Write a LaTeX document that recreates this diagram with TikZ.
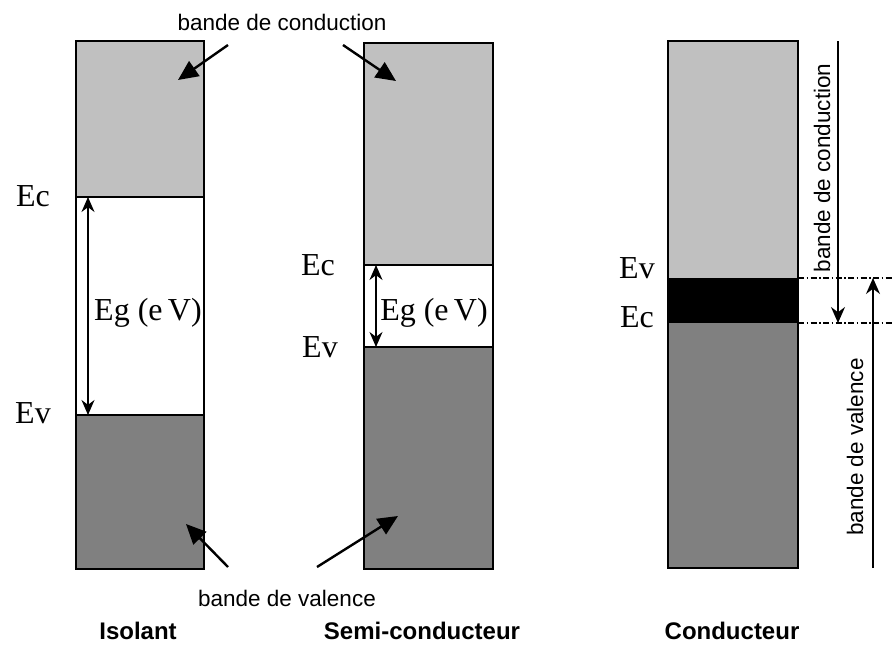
\documentclass[tikz,border=0pt]{standalone}
\usepackage{fontspec}
\setmainfont{Liberation Serif}
\setsansfont{Liberation Sans}
\usetikzlibrary{arrows.meta}
\definecolor{cband}{HTML}{C0C0C0}
\definecolor{vband}{HTML}{808080}
\begin{document}
\begin{tikzpicture}[x=1pt,y=-1pt,
  bandline/.style={draw=black,line width=1.3pt},
  elbl/.style={font=\fontsize{32}{32}\selectfont,inner sep=0pt},
  blbl/.style={font=\sffamily\fontsize{22.5}{22.5}\selectfont,inner sep=0pt},
  ttl/.style={font=\sffamily\bfseries\fontsize{24}{24}\selectfont,inner sep=0pt},
  ptr/.style={line width=2.4pt,-{Triangle[length=20pt,width=18pt]}},
  gaparrow/.style={line width=1.3pt,{Stealth[length=15pt,width=13pt]}-{Stealth[length=15pt,width=13pt]}},
  sidearrow/.style={line width=1.3pt,-{Stealth[length=16pt,width=14pt]}},
  levelline/.style={line width=1.1pt,dash pattern=on 6pt off 2.5pt on 1.5pt off 2.5pt}]
\useasboundingbox (0,0) rectangle (892,646);
\fill[white] (0,0) rectangle (892,646);

% ---------- Isolant ----------
\fill[cband] (76,41) rectangle (204,197);
\fill[vband] (76,415) rectangle (204,569);
\draw[bandline] (76,41) rectangle (204,569);
\draw[bandline] (76,197) -- (204,197);
\draw[bandline] (76,415) -- (204,415);
\coordinate (iEc) at (88,197);
\coordinate (iEv) at (88,415);
\draw[gaparrow] (iEc) -- (iEv);
\node[elbl] (iEcL) at (33,196) {Ec};
\node[elbl] (iEvL) at (33,413) {Ev};
\node[elbl] (iEg) at (148,313) {Eg (e\,V)};

% ---------- Semi-conducteur ----------
\fill[cband] (364,43) rectangle (493,265);
\fill[vband] (364,347) rectangle (493,569);
\draw[bandline] (364,43) rectangle (493,569);
\draw[bandline] (364,265) -- (493,265);
\draw[bandline] (364,347) -- (493,347);
\coordinate (sEc) at (376,265);
\coordinate (sEv) at (376,347);
\draw[gaparrow] (sEc) -- (sEv);
\node[elbl] (sEcL) at (318,265) {Ec};
\node[elbl] (sEvL) at (320,347) {Ev};
\node[elbl] (sEg) at (434,313) {Eg (e\,V)};

% ---------- labels bande de conduction / valence ----------
\node[blbl] (bc) at (282,22) {bande de conduction};
\coordinate (bcL0) at (228,45);
\coordinate (bcL1) at (178,80);
\coordinate (bcR0) at (343,45);
\coordinate (bcR1) at (396,81);
\draw[ptr] (bcL0) -- (bcL1);
\draw[ptr] (bcR0) -- (bcR1);

\node[blbl] (bv) at (287,598) {bande de valence};
\coordinate (bvL0) at (228,567);
\coordinate (bvL1) at (186,524);
\coordinate (bvR0) at (317,567);
\coordinate (bvR1) at (398,516);
\draw[ptr] (bvL0) -- (bvL1);
\draw[ptr] (bvR0) -- (bvR1);

% ---------- Conducteur ----------
\fill[cband] (668,41) rectangle (798,278);
\fill[black] (668,278) rectangle (798,323);
\fill[vband] (668,323) rectangle (798,568);
\draw[bandline] (668,41) rectangle (798,568);
\coordinate (cEvR) at (892,278);
\coordinate (cEcR) at (892,323);
\coordinate (cEvL) at (798,278);
\coordinate (cEcL) at (798,323);
\draw[levelline] (cEvL) -- (cEvR);
\draw[levelline] (cEcL) -- (cEcR);
\node[elbl] (cEvT) at (637,268) {Ev};
\node[elbl] (cEcT) at (637,317) {Ec};

\coordinate (dTop) at (838,41);
\coordinate (dBot) at (838,323);
\draw[sidearrow] (dTop) -- (dBot);
\coordinate (uBot) at (873,568);
\coordinate (uTop) at (873,278);
\draw[sidearrow] (uBot) -- (uTop);
\node[blbl,rotate=90] (cbc) at (822,168) {bande de conduction};
\node[blbl,rotate=90] (cbv) at (855,447) {bande de valence};

% ---------- titles ----------
\node[ttl] (tI) at (138,631) {Isolant};
\node[ttl] (tS) at (422,631) {Semi-conducteur};
\node[ttl] (tC) at (732,631) {Conducteur};
\end{tikzpicture}
\end{document}
